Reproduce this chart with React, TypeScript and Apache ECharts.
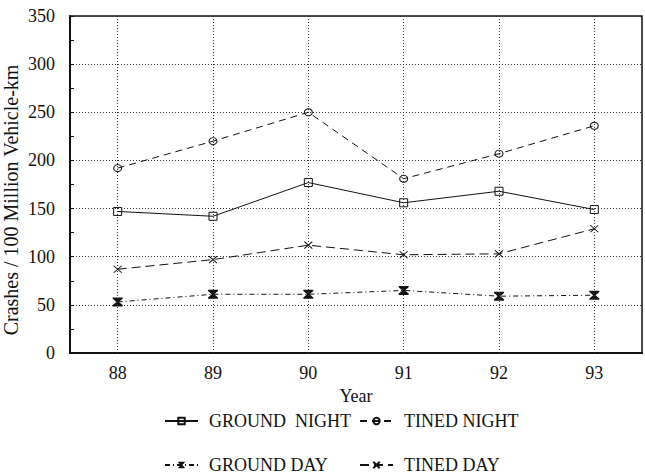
import React, { useEffect, useRef } from "react";
import * as echarts from "echarts";

const years = ["88", "89", "90", "91", "92", "93"];
const groundNight = [147, 142, 177, 156, 168, 149];
const tinedNight = [192, 220, 250, 181, 207, 236];
const groundDay = [53, 61, 61, 65, 59, 60];
const tinedDay = [87, 97, 112, 102, 103, 129];
const yTitle = "Crashes / 100 Million Vehicle-km";

const FONT = "Liberation Serif";
const INK = "#111";

const hourglass = "path://M0,0L10,0L10,1.5L6.2,5L10,8.5L10,10L0,10L0,8.5L3.8,5L0,1.5Z";
const cross = "path://M0,0L10,10M10,0L0,10";

export default function App() {
  const ref = useRef<HTMLDivElement>(null);

  useEffect(() => {
    if (!ref.current) return;
    const chart = echarts.init(ref.current, null, { renderer: "svg" });

    const hollow = { color: "rgba(0,0,0,0)", borderColor: INK, borderWidth: 1 };

    const legendBase = {
      orient: "horizontal" as const,
      itemWidth: 33,
      itemHeight: 8,
      padding: 0,
      textStyle: {
        fontFamily: FONT,
        fontSize: 18,
        color: INK,
        lineHeight: 16,
        padding: [0, 0, 0, 6],
      },
      selectedMode: false,
    };

    chart.setOption({
      animation: false,
      backgroundColor: "#fff",
      grid: {
        left: 70,
        right: 3,
        top: 16,
        bottom: 121,
        show: true,
        borderColor: INK,
        borderWidth: 1.5,
      },
      legend: [
        { ...legendBase, left: 164, top: 412, data: ["GROUND  NIGHT"] },
        { ...legendBase, left: 359, top: 412, data: ["TINED NIGHT"] },
        { ...legendBase, left: 164, top: 456, data: ["GROUND DAY"] },
        { ...legendBase, left: 359, top: 456, data: ["TINED DAY"] },
      ],
      xAxis: {
        type: "category",
        data: years,
        boundaryGap: true,
        name: "Year",
        nameLocation: "middle",
        nameGap: 30,
        nameTextStyle: { fontFamily: FONT, fontSize: 18, color: INK },
        axisLine: { lineStyle: { color: INK, width: 2 } },
        axisTick: { show: false },
        axisLabel: { fontFamily: FONT, fontSize: 18, color: INK, margin: 11 },
        splitLine: { show: false },
      },
      yAxis: {
        type: "value",
        min: 0,
        max: 350,
        interval: 50,
        axisLine: { show: true, lineStyle: { color: INK, width: 2 } },
        axisTick: { show: true, inside: true, length: 4, lineStyle: { color: INK } },
        minorTick: { show: true, splitNumber: 2, length: 4, lineStyle: { color: INK } },
        axisLabel: { fontFamily: FONT, fontSize: 18, color: INK, margin: 15 },
        splitLine: { show: true, lineStyle: { color: "#333", type: [1, 2], width: 1 } },
      },
      graphic: [
        {
          type: "text",
          x: 11,
          y: 200,
          rotation: Math.PI / 2,
          style: {
            text: yTitle,
            fontFamily: FONT,
            fontSize: 20,
            fill: INK,
            align: "center",
            verticalAlign: "middle",
          },
        },
      ],
      series: [
        {
          name: "GROUND  NIGHT",
          type: "line",
          data: groundNight,
          symbol: "rect",
          symbolSize: 8,
          lineStyle: { color: INK, width: 1, type: "solid" },
          itemStyle: hollow,
          markLine: {
            silent: true,
            symbol: "none",
            label: { show: false },
            lineStyle: { color: "#333", type: [1, 2], width: 1 },
            data: years.map((y) => ({ xAxis: y })),
          },
          z: 4,
        },
        {
          name: "TINED NIGHT",
          type: "line",
          data: tinedNight,
          symbol: "circle",
          symbolSize: [8, 7],
          lineStyle: { color: INK, width: 1, type: [7, 5] },
          itemStyle: hollow,
          z: 4,
        },
        {
          name: "GROUND DAY",
          type: "line",
          data: groundDay,
          symbol: hourglass,
          symbolSize: [10, 9],
          lineStyle: { color: INK, width: 1, type: [5, 3, 1, 3] },
          itemStyle: { color: INK, borderWidth: 0 },
          z: 4,
        },
        {
          name: "TINED DAY",
          type: "line",
          data: tinedDay,
          symbol: cross,
          symbolSize: [8, 7],
          lineStyle: { color: INK, width: 1, type: [9, 5] },
          itemStyle: hollow,
          z: 4,
        },
      ],
    });

    return () => chart.dispose();
  }, []);

  return <div ref={ref} style={{ width: 645, height: 474, position: "absolute", left: 0, top: 0 }} />;
}
